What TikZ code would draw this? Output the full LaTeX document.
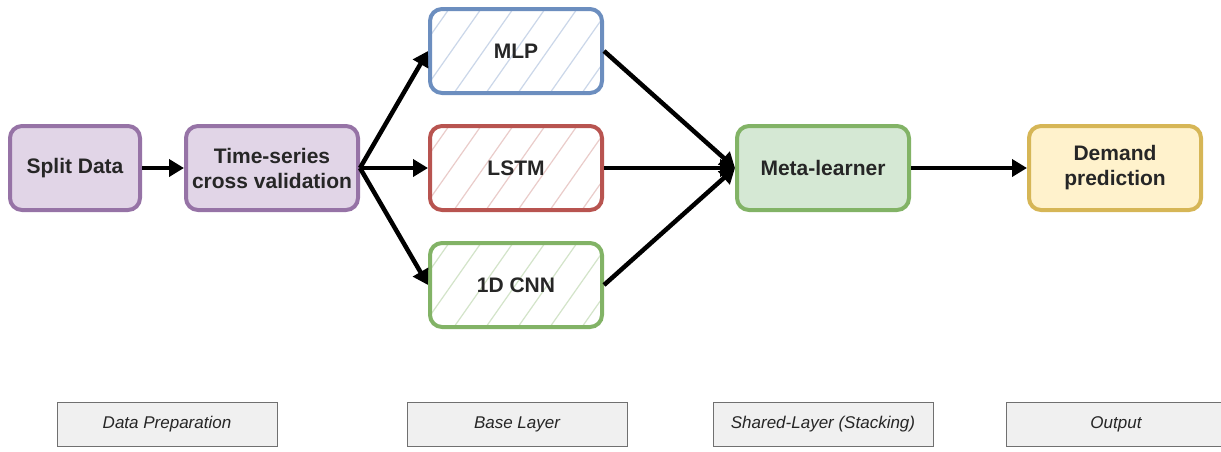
\documentclass[tikz,border=0pt]{standalone}
\usepackage{fontspec}
\setmainfont{Liberation Sans}
\usetikzlibrary{arrows.meta}
\definecolor{purpfill}{HTML}{E1D5E7}
\definecolor{purpline}{HTML}{9673A6}
\definecolor{blueline}{HTML}{6C8EBF}
\definecolor{redline}{HTML}{B85450}
\definecolor{greenline}{HTML}{82B366}
\definecolor{greenfill}{HTML}{D5E8D4}
\definecolor{yelline}{HTML}{D6B656}
\definecolor{yelfill}{HTML}{FFF2CC}
\definecolor{tagfill}{HTML}{F0F0F0}
\definecolor{tagline}{HTML}{707070}
\tikzset{
  proc/.style={rounded corners=12pt, line width=4pt, minimum width=130pt,
    minimum height=84pt, align=center, inner sep=2pt,
    font=\bfseries\fontsize{21}{25}\selectfont, text=black!85},
  wide/.style={minimum width=172pt},
  hatched/.style={fill=white, path picture={
      \foreach \i in {0,...,9}
        \draw[#1, line width=1.2pt]
          ([xshift=\i*32pt-72pt]path picture bounding box.south west) -- ++(66pt,94pt);
    }},
  tag/.style={draw=tagline, fill=tagfill, line width=1pt, minimum width=220pt,
    minimum height=44pt, font=\itshape\fontsize{17}{20}\selectfont, text=black!85},
  flow/.style={line width=4.5pt, -{Triangle[length=15pt,width=17pt]}}
}
\begin{document}
\begin{tikzpicture}[x=1pt,y=-1pt]
\useasboundingbox (0,0) rectangle (1221,451);

% pipeline boxes
\node[proc, draw=purpline, fill=purpfill] (split) at (75,168) {Split Data};
\node[proc, wide, draw=purpline, fill=purpfill] (tscv) at (272,168) {Time-series\\cross validation};

\node[proc, wide, draw=blueline, hatched=blueline!35] (mlp) at (516,51) {MLP};
\node[proc, wide, draw=redline, hatched=redline!30] (lstm) at (516,168) {LSTM};
\node[proc, wide, draw=greenline, hatched=greenline!35] (cnn) at (516,285) {1D CNN};

\node[proc, wide, draw=greenline, fill=greenfill] (meta) at (823,168) {Meta-learner};
\node[proc, wide, draw=yelline, fill=yelfill] (demand) at (1115,168) {Demand\\prediction};

% connectors
\draw[flow] (split) -- (tscv);
\draw[flow] (tscv.east) -- (mlp.west);
\draw[flow] (tscv.east) -- (lstm.west);
\draw[flow] (tscv.east) -- (cnn.west);
\draw[flow] (mlp.east) -- (meta.west);
\draw[flow] (lstm.east) -- (meta.west);
\draw[flow] (cnn.east) -- (meta.west);
\draw[flow] (meta) -- (demand);

% stage labels
\node[tag] (t1) at (167,424) {Data Preparation};
\node[tag] (t2) at (517,424) {Base Layer};
\node[tag] (t3) at (823,424) {Shared-Layer (Stacking)};
\node[tag] (t4) at (1116,424) {Output};
\end{tikzpicture}
\end{document}
